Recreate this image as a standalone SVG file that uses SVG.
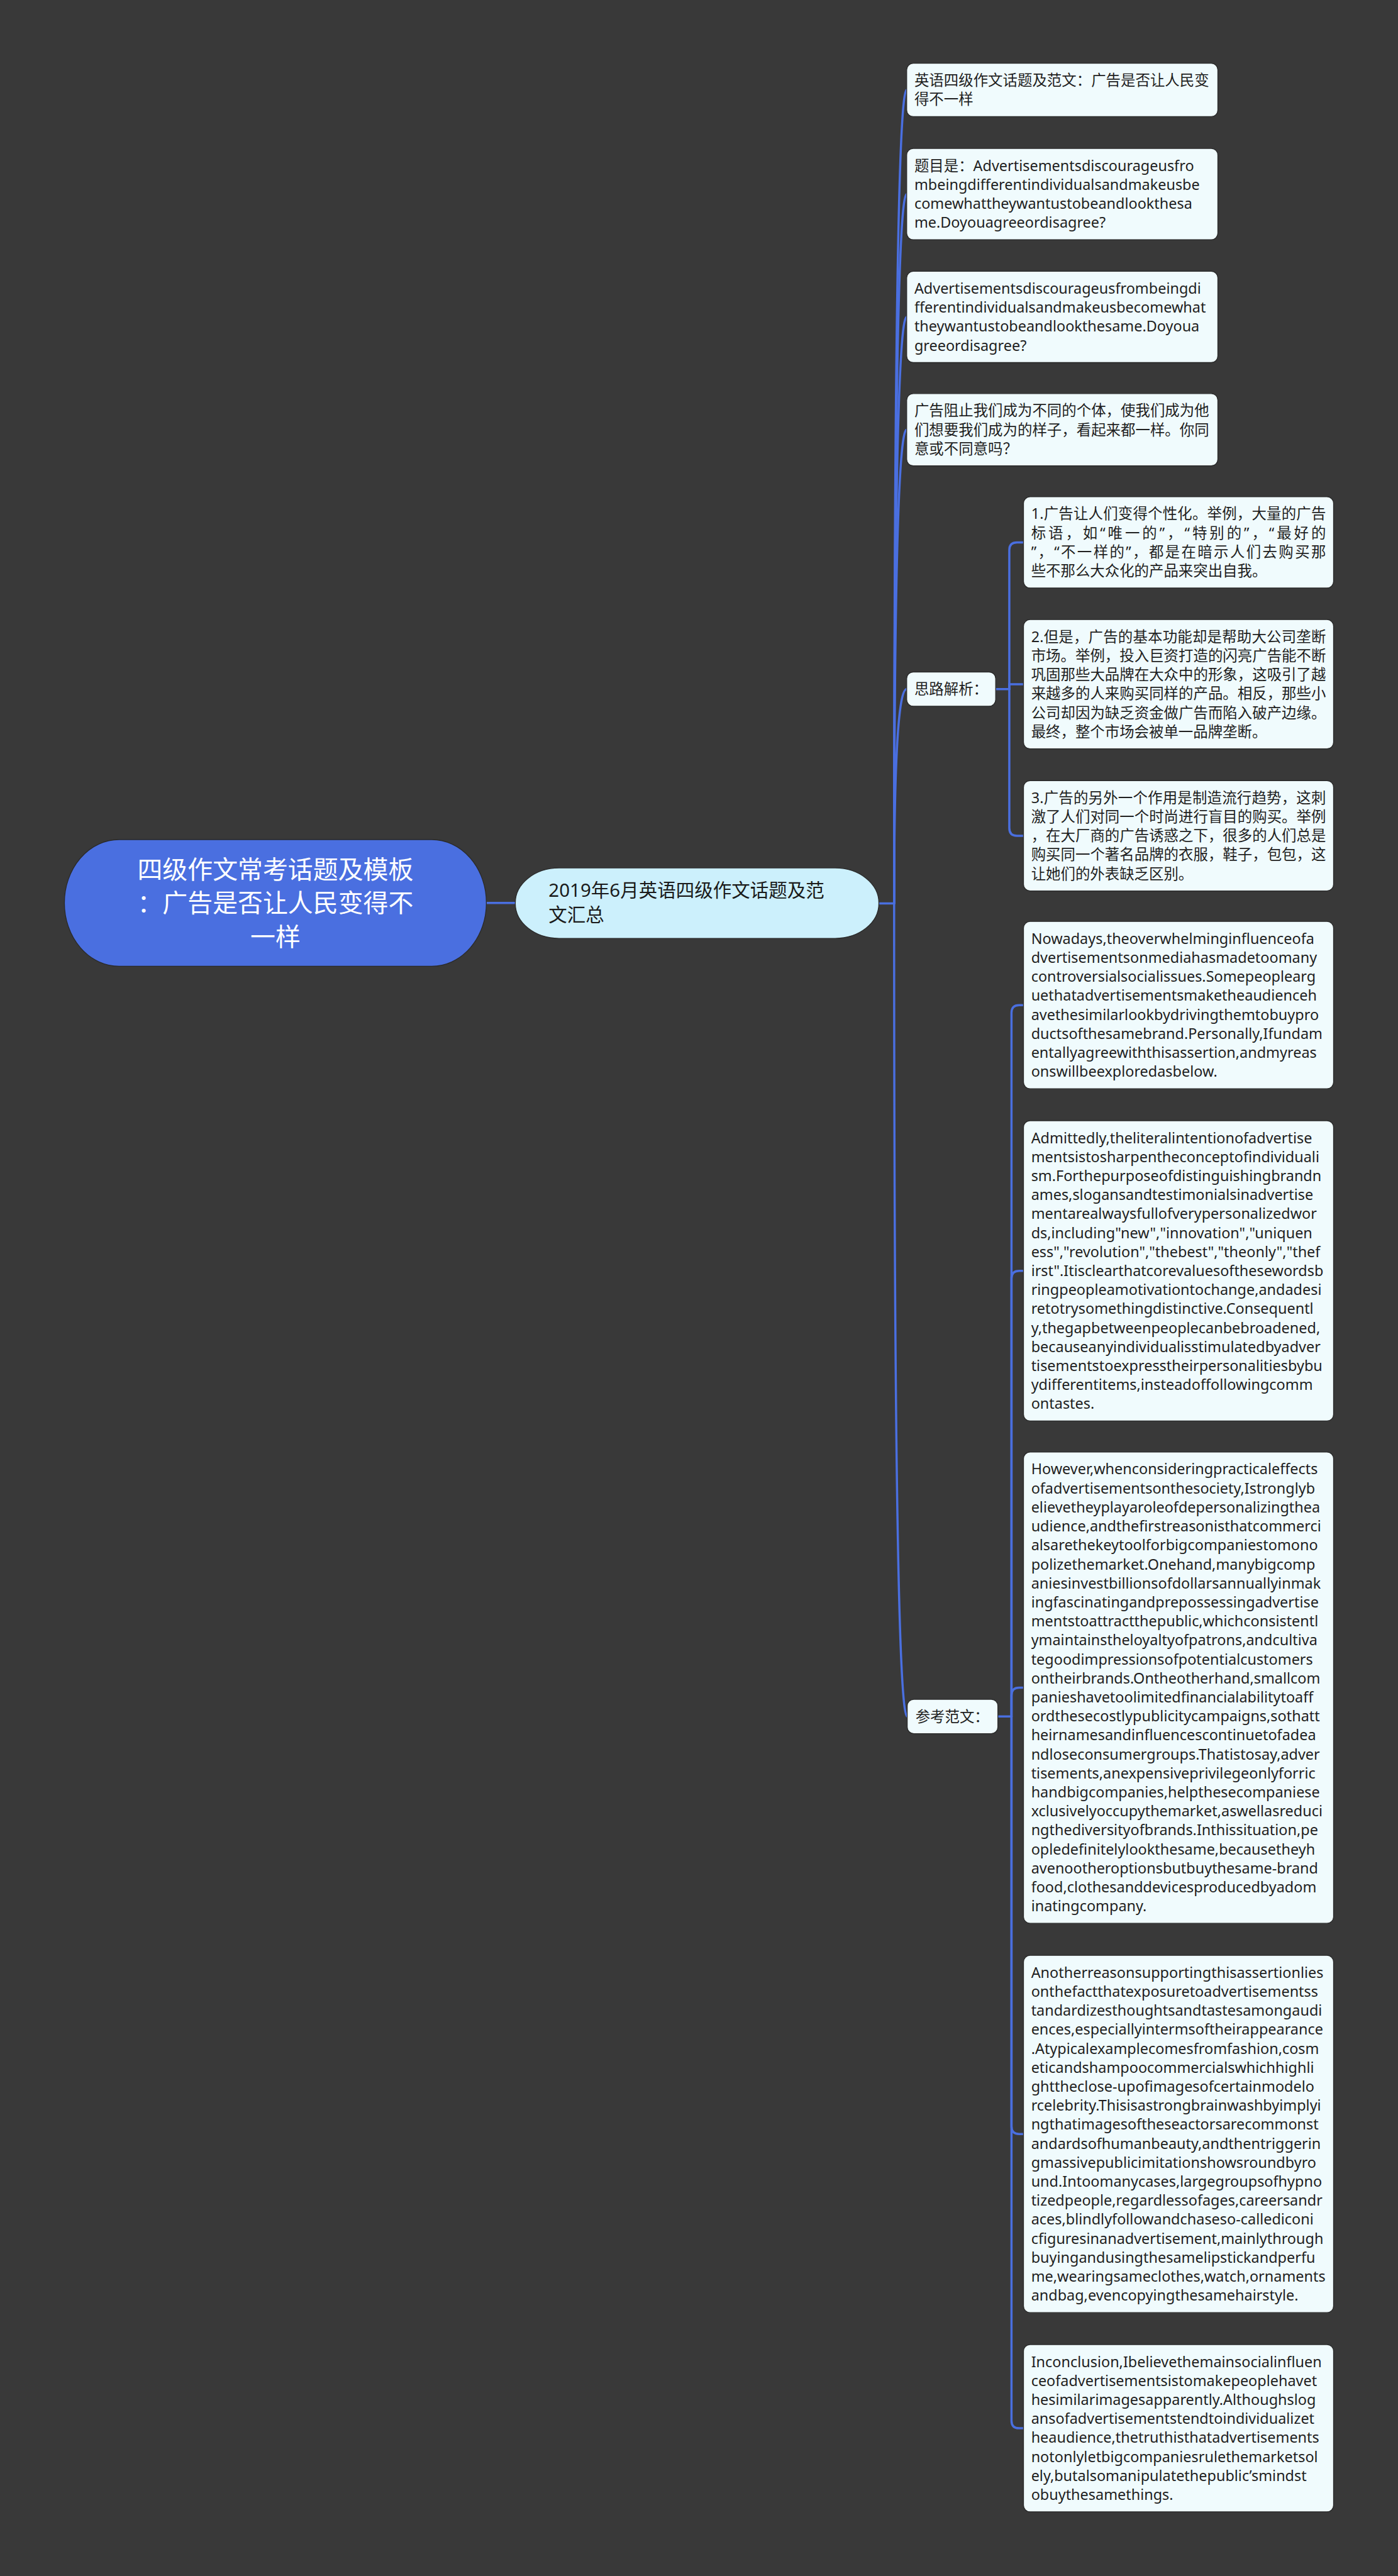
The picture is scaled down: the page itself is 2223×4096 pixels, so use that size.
<svg xmlns="http://www.w3.org/2000/svg" width="2223" height="4096" viewBox="0 0 2223 4096">
<style>
.t{font-family:'Noto Sans','Noto Sans CJK SC',sans-serif;font-size:27px;fill:#1f1f1f}
.box{fill:#f0fbfd;stroke:#2a2a2a;stroke-width:1.5}
.lk{fill:none;stroke:#4a6fe0;stroke-width:4;stroke-linecap:round}
.rt{font-family:'Noto Sans','Noto Sans CJK SC',sans-serif;font-size:46px;fill:#ffffff;text-anchor:middle}
.l1{font-family:'Noto Sans','Noto Sans CJK SC',sans-serif;font-size:34px;fill:#1a1a1a}
</style>
<rect width="2223" height="4096" fill="#393939"/>
<g transform="scale(0.868)">
<g id="connectors">
<path class="lk" d="M891 1654H944"/>
<path class="lk" d="M1610 1655H1638"/>
<path class="lk" d="M1638 1655Q1638 164.8 1661 164.8"/>
<path class="lk" d="M1638 1655Q1638 355.6 1661 355.6"/>
<path class="lk" d="M1638 1655Q1638 580.6 1661 580.6"/>
<path class="lk" d="M1638 1655Q1638 787.2 1661 787.2"/>
<path class="lk" d="M1638 1655Q1638 1262.4 1661 1262.4"/>
<path class="lk" d="M1638 1655Q1638 3144.4 1662 3144.4"/>
<path class="lk" d="M1824 1262.4H1849"/>
<path class="lk" d="M1849 1262.4V1007.6Q1849 993.6 1863 993.6H1875"/>
<path class="lk" d="M1849 1262.4V1253.4H1875"/>
<path class="lk" d="M1849 1262.4V1517Q1849 1531 1863 1531H1875"/>
<path class="lk" d="M1828 3144.4H1853"/>
<path class="lk" d="M1853 3144.4V1855.2Q1853 1841.2 1867 1841.2H1875"/>
<path class="lk" d="M1853 3144.4V2342Q1853 2328 1867 2328H1875"/>
<path class="lk" d="M1853 3144.4V3105.6Q1853 3091.6 1867 3091.6H1875"/>
<path class="lk" d="M1853 3144.4V3895.2Q1853 3909.2 1867 3909.2H1875"/>
<path class="lk" d="M1853 3144.4V4434.2Q1853 4448.2 1867 4448.2H1875"/>
</g>
<g id="root">
<rect x="118" y="1538" width="773" height="232" rx="100" ry="116" fill="#4a6fe0" stroke="#2a2a2a" stroke-width="1.5"/>
<text class="rt" x="504.5" y="1609">四级作文常考话题及模板</text>
<text class="rt" x="504.5" y="1671">：广告是否让人民变得不</text>
<text class="rt" x="504.5" y="1733">一样</text>
</g>
<g id="level1">
<rect x="944" y="1590" width="666" height="129" rx="80" ry="64" fill="#ccf0fc" stroke="#2a2a2a" stroke-width="1.5"/>
<text class="l1" x="1005" y="1643">2019年6月英语四级作文话题及范</text>
<text class="l1" x="1005" y="1688">文汇总</text>
</g>
<g id="nodeA">
<rect class="box" x="1661" y="116" width="570" height="97.6" rx="12"/>
<text class="t" x="1675" y="157" textLength="540" lengthAdjust="spacing">英语四级作文话题及范文：广告是否让人民变</text>
<text class="t" x="1675" y="191.8">得不一样</text>
</g>
<g id="nodeB">
<rect class="box" x="1661" y="272" width="570" height="167.2" rx="12"/>
<text class="t" x="1675" y="313">题目是：Advertisementsdiscourageusfro</text>
<text class="t" x="1675" y="347.8">mbeingdifferentindividualsandmakeusbe</text>
<text class="t" x="1675" y="382.6">comewhattheywantustobeandlookthesa</text>
<text class="t" x="1675" y="417.4">me.Doyouagreeordisagree?</text>
</g>
<g id="nodeC">
<rect class="box" x="1661" y="497" width="570" height="167.2" rx="12"/>
<text class="t" x="1675" y="538">Advertisementsdiscourageusfrombeingdi</text>
<text class="t" x="1675" y="572.8">fferentindividualsandmakeusbecomewhat</text>
<text class="t" x="1675" y="607.6">theywantustobeandlookthesame.Doyoua</text>
<text class="t" x="1675" y="642.4">greeordisagree?</text>
</g>
<g id="nodeD">
<rect class="box" x="1661" y="721" width="570" height="132.4" rx="12"/>
<text class="t" x="1675" y="762" textLength="540" lengthAdjust="spacing">广告阻止我们成为不同的个体，使我们成为他</text>
<text class="t" x="1675" y="796.8" textLength="540" lengthAdjust="spacing">们想要我们成为的样子，看起来都一样。你同</text>
<text class="t" x="1675" y="831.6">意或不同意吗？</text>
</g>
<g id="siluNode">
<rect class="box" x="1661" y="1231" width="163" height="62.8" rx="12"/>
<text class="t" x="1675" y="1272">思路解析：</text>
</g>
<g id="s1">
<rect class="box" x="1875" y="910" width="568" height="167.2" rx="12"/>
<text class="t" x="1889" y="951" textLength="540" lengthAdjust="spacing">1.广告让人们变得个性化。举例，大量的广告</text>
<text class="t" x="1889" y="985.8" textLength="540" lengthAdjust="spacing">标语，如“唯一的”，“特别的”，“最好的</text>
<text class="t" x="1889" y="1020.6" textLength="540" lengthAdjust="spacing">”，“不一样的”，都是在暗示人们去购买那</text>
<text class="t" x="1889" y="1055.4">些不那么大众化的产品来突出自我。</text>
</g>
<g id="s2">
<rect class="box" x="1875" y="1135" width="568" height="236.8" rx="12"/>
<text class="t" x="1889" y="1176" textLength="540" lengthAdjust="spacing">2.但是，广告的基本功能却是帮助大公司垄断</text>
<text class="t" x="1889" y="1210.8" textLength="540" lengthAdjust="spacing">市场。举例，投入巨资打造的闪亮广告能不断</text>
<text class="t" x="1889" y="1245.6" textLength="540" lengthAdjust="spacing">巩固那些大品牌在大众中的形象，这吸引了越</text>
<text class="t" x="1889" y="1280.4" textLength="540" lengthAdjust="spacing">来越多的人来购买同样的产品。相反，那些小</text>
<text class="t" x="1889" y="1315.2" textLength="540" lengthAdjust="spacing">公司却因为缺乏资金做广告而陷入破产边缘。</text>
<text class="t" x="1889" y="1350">最终，整个市场会被单一品牌垄断。</text>
</g>
<g id="s3">
<rect class="box" x="1875" y="1430" width="568" height="202" rx="12"/>
<text class="t" x="1889" y="1471" textLength="540" lengthAdjust="spacing">3.广告的另外一个作用是制造流行趋势，这刺</text>
<text class="t" x="1889" y="1505.8" textLength="540" lengthAdjust="spacing">激了人们对同一个时尚进行盲目的购买。举例</text>
<text class="t" x="1889" y="1540.6" textLength="540" lengthAdjust="spacing">，在大厂商的广告诱惑之下，很多的人们总是</text>
<text class="t" x="1889" y="1575.4" textLength="540" lengthAdjust="spacing">购买同一个著名品牌的衣服，鞋子，包包，这</text>
<text class="t" x="1889" y="1610.2">让她们的外表缺乏区别。</text>
</g>
<g id="cankaoNode">
<rect class="box" x="1662" y="3113" width="166" height="62.8" rx="12"/>
<text class="t" x="1677" y="3154">参考范文：</text>
</g>
<g id="r1">
<rect class="box" x="1875" y="1688" width="568" height="306.4" rx="12"/>
<text class="t" x="1889" y="1729">Nowadays,theoverwhelminginfluenceofa</text>
<text class="t" x="1889" y="1763.8">dvertisementsonmediahasmadetoomany</text>
<text class="t" x="1889" y="1798.6">controversialsocialissues.Somepeoplearg</text>
<text class="t" x="1889" y="1833.4">uethatadvertisementsmaketheaudienceh</text>
<text class="t" x="1889" y="1868.2">avethesimilarlookbydrivingthemtobuypro</text>
<text class="t" x="1889" y="1903">ductsofthesamebrand.Personally,Ifundam</text>
<text class="t" x="1889" y="1937.8">entallyagreewiththisassertion,andmyreas</text>
<text class="t" x="1889" y="1972.6">onswillbeexploredasbelow.</text>
</g>
<g id="r2">
<rect class="box" x="1875" y="2053" width="568" height="550" rx="12"/>
<text class="t" x="1889" y="2094">Admittedly,theliteralintentionofadvertise</text>
<text class="t" x="1889" y="2128.8">mentsistosharpentheconceptofindividuali</text>
<text class="t" x="1889" y="2163.6">sm.Forthepurposeofdistinguishingbrandn</text>
<text class="t" x="1889" y="2198.4">ames,slogansandtestimonialsinadvertise</text>
<text class="t" x="1889" y="2233.2">mentarealwaysfullofverypersonalizedwor</text>
<text class="t" x="1889" y="2268">ds,including"new","innovation","uniquen</text>
<text class="t" x="1889" y="2302.8">ess","revolution","thebest","theonly","thef</text>
<text class="t" x="1889" y="2337.6">irst".Itisclearthatcorevaluesofthesewordsb</text>
<text class="t" x="1889" y="2372.4">ringpeopleamotivationtochange,andadesi</text>
<text class="t" x="1889" y="2407.2">retotrysomethingdistinctive.Consequentl</text>
<text class="t" x="1889" y="2442">y,thegapbetweenpeoplecanbebroadened,</text>
<text class="t" x="1889" y="2476.8">becauseanyindividualisstimulatedbyadver</text>
<text class="t" x="1889" y="2511.6">tisementstoexpresstheirpersonalitiesbybu</text>
<text class="t" x="1889" y="2546.4">ydifferentitems,insteadoffollowingcomm</text>
<text class="t" x="1889" y="2581.2">ontastes.</text>
</g>
<g id="r3">
<rect class="box" x="1875" y="2660" width="568" height="863.2" rx="12"/>
<text class="t" x="1889" y="2701">However,whenconsideringpracticaleffects</text>
<text class="t" x="1889" y="2735.8">ofadvertisementsonthesociety,Istronglyb</text>
<text class="t" x="1889" y="2770.6">elievetheyplayaroleofdepersonalizingthea</text>
<text class="t" x="1889" y="2805.4">udience,andthefirstreasonisthatcommerci</text>
<text class="t" x="1889" y="2840.2">alsarethekeytoolforbigcompaniestomono</text>
<text class="t" x="1889" y="2875">polizethemarket.Onehand,manybigcomp</text>
<text class="t" x="1889" y="2909.8">aniesinvestbillionsofdollarsannuallyinmak</text>
<text class="t" x="1889" y="2944.6">ingfascinatingandprepossessingadvertise</text>
<text class="t" x="1889" y="2979.4">mentstoattractthepublic,whichconsistentl</text>
<text class="t" x="1889" y="3014.2">ymaintainstheloyaltyofpatrons,andcultiva</text>
<text class="t" x="1889" y="3049">tegoodimpressionsofpotentialcustomers</text>
<text class="t" x="1889" y="3083.8">ontheirbrands.Ontheotherhand,smallcom</text>
<text class="t" x="1889" y="3118.6">panieshavetoolimitedfinancialabilitytoaff</text>
<text class="t" x="1889" y="3153.4">ordthesecostlypublicitycampaigns,sothatt</text>
<text class="t" x="1889" y="3188.2">heirnamesandinfluencescontinuetofadea</text>
<text class="t" x="1889" y="3223">ndloseconsumergroups.Thatistosay,adver</text>
<text class="t" x="1889" y="3257.8">tisements,anexpensiveprivilegeonlyforric</text>
<text class="t" x="1889" y="3292.6">handbigcompanies,helpthesecompaniese</text>
<text class="t" x="1889" y="3327.4">xclusivelyoccupythemarket,aswellasreduci</text>
<text class="t" x="1889" y="3362.2">ngthediversityofbrands.Inthissituation,pe</text>
<text class="t" x="1889" y="3397">opledefinitelylookthesame,becausetheyh</text>
<text class="t" x="1889" y="3431.8">avenootheroptionsbutbuythesame-brand</text>
<text class="t" x="1889" y="3466.6">food,clothesanddevicesproducedbyadom</text>
<text class="t" x="1889" y="3501.4">inatingcompany.</text>
</g>
<g id="r4">
<rect class="box" x="1875" y="3582" width="568" height="654.4" rx="12"/>
<text class="t" x="1889" y="3623">Anotherreasonsupportingthisassertionlies</text>
<text class="t" x="1889" y="3657.8">onthefactthatexposuretoadvertisementss</text>
<text class="t" x="1889" y="3692.6">tandardizesthoughtsandtastesamongaudi</text>
<text class="t" x="1889" y="3727.4">ences,especiallyintermsoftheirappearance</text>
<text class="t" x="1889" y="3762.2">.Atypicalexamplecomesfromfashion,cosm</text>
<text class="t" x="1889" y="3797">eticandshampoocommercialswhichhighli</text>
<text class="t" x="1889" y="3831.8">ghttheclose-upofimagesofcertainmodelo</text>
<text class="t" x="1889" y="3866.6">rcelebrity.Thisisastrongbrainwashbyimplyi</text>
<text class="t" x="1889" y="3901.4">ngthatimagesoftheseactorsarecommonst</text>
<text class="t" x="1889" y="3936.2">andardsofhumanbeauty,andthentriggerin</text>
<text class="t" x="1889" y="3971">gmassivepublicimitationshowsroundbyro</text>
<text class="t" x="1889" y="4005.8">und.Intoomanycases,largegroupsofhypno</text>
<text class="t" x="1889" y="4040.6">tizedpeople,regardlessofages,careersandr</text>
<text class="t" x="1889" y="4075.4">aces,blindlyfollowandchaseso-callediconi</text>
<text class="t" x="1889" y="4110.2">cfiguresinanadvertisement,mainlythrough</text>
<text class="t" x="1889" y="4145">buyingandusingthesamelipstickandperfu</text>
<text class="t" x="1889" y="4179.8">me,wearingsameclothes,watch,ornaments</text>
<text class="t" x="1889" y="4214.6">andbag,evencopyingthesamehairstyle.</text>
</g>
<g id="r5">
<rect class="box" x="1875" y="4295" width="568" height="306.4" rx="12"/>
<text class="t" x="1889" y="4336">Inconclusion,Ibelievethemainsocialinfluen</text>
<text class="t" x="1889" y="4370.8">ceofadvertisementsistomakepeoplehavet</text>
<text class="t" x="1889" y="4405.6">hesimilarimagesapparently.Althoughslog</text>
<text class="t" x="1889" y="4440.4">ansofadvertisementstendtoindividualizet</text>
<text class="t" x="1889" y="4475.2">heaudience,thetruthisthatadvertisements</text>
<text class="t" x="1889" y="4510">notonlyletbigcompaniesrulethemarketsol</text>
<text class="t" x="1889" y="4544.8">ely,butalsomanipulatethepublic’smindst</text>
<text class="t" x="1889" y="4579.6">obuythesamethings.</text>
</g>
</g>
</svg>
